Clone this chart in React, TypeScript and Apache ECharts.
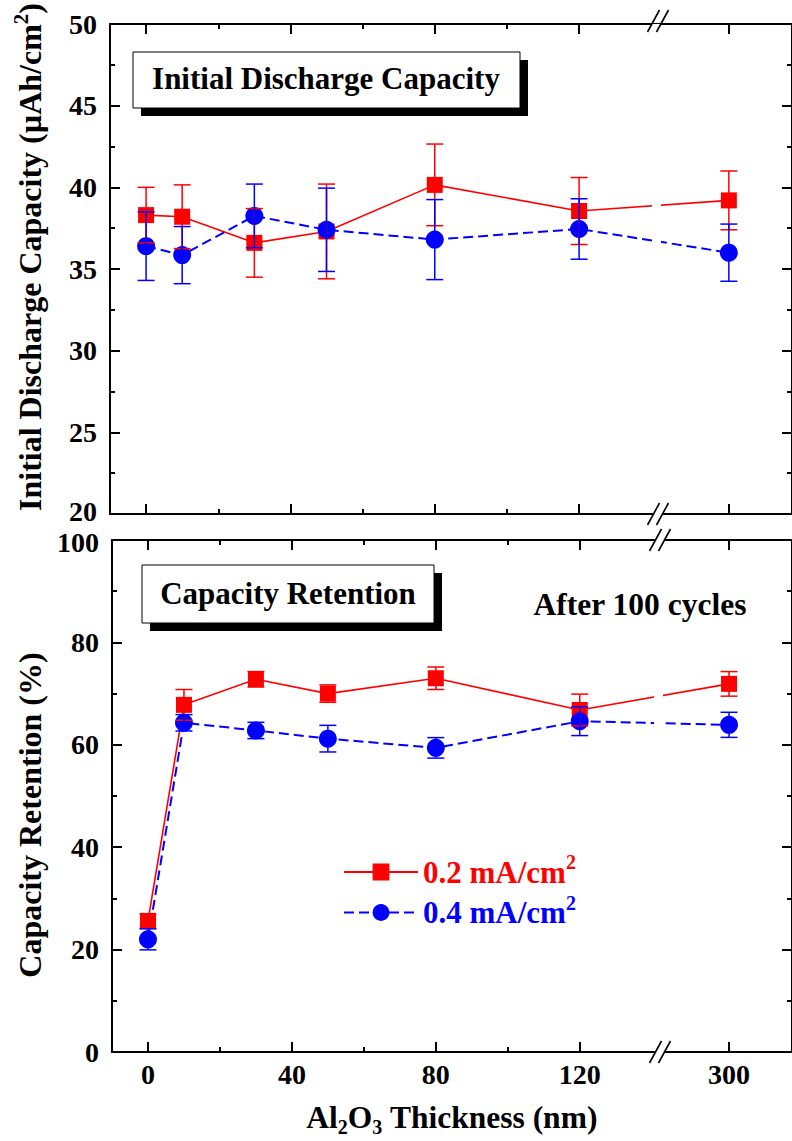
import React, { useEffect, useRef } from "react";
import * as echarts from "echarts";

// ---------- data ----------
const thickness = [0, 10, 30, 50, 80, 120, 300];
const xMajorTicks = [0, 40, 80, 120, 300];
const xMinorTicks = [20, 60, 100];

const capRed = [38.3, 38.2, 36.6, 37.3, 40.15, 38.55, 39.2];
const capRedErr = [1.7, 1.95, 2.1, 2.9, 2.5, 2.05, 1.8];
const capBlue = [36.4, 35.85, 38.25, 37.4, 36.8, 37.45, 36.0];
const capBlueErr = [2.1, 1.75, 1.95, 2.55, 2.45, 1.85, 1.75];

const retRed = [25.6, 67.8, 72.8, 70.0, 73.0, 66.8, 71.9];
const retRedErr = [1.4, 3.0, 1.5, 1.7, 2.2, 3.1, 2.4];
const retBlue = [22.0, 64.3, 62.8, 61.2, 59.4, 64.6, 63.9];
const retBlueErr = [2.05, 1.6, 1.6, 2.6, 2.0, 2.8, 2.45];

const seriesNames = ["0.2 mA/cm2", "0.4 mA/cm2"];
const RED = "#ff0000";
const BLUE = "#0000ff";

// ---------- axis break mapping (120 | 300) ----------
const BREAK_AFTER = 120;
const BREAK_TARGET = 300;
const BREAK_POS = 161.5;
const xPos = (t: number) => (t <= BREAK_AFTER ? t : BREAK_POS + (t - BREAK_TARGET));
const xLabel = (p: number) => String(Math.round(p <= BREAK_AFTER ? p : p - BREAK_POS + BREAK_TARGET));

const FONT = '"Liberation Serif", "Times New Roman", serif';

const G1 = { left: 110, top: 21, width: 685, height: 493 };
const G2 = { left: 112, top: 540, width: 683, height: 512 };

function xAxesFor(g: number) {
  const base = {
    type: "value",
    gridIndex: g,
    min: -10,
    max: 179,
    splitLine: { show: false },
  };
  const mk = (position: string, major: boolean, labels: boolean) => ({
    ...base,
    position,
    axisLine: { show: major, onZero: false, lineStyle: { color: "#000", width: 2 } },
    axisTick: {
      show: true,
      inside: true,
      length: major ? 10 : 5,
      customValues: (major ? xMajorTicks : xMinorTicks).map(xPos),
      lineStyle: { color: "#000", width: 2 },
    },
    axisLabel: {
      show: labels,
      customValues: xMajorTicks.map(xPos),
      formatter: (v: number) => xLabel(v),
      margin: 11,
      fontSize: 28,
      lineHeight: 22,
      fontWeight: "bold",
      fontFamily: FONT,
      color: "#000",
    },
    ...(labels
      ? {
          name: "{m|Al}{s|2}{m|O}{s|3}{m| Thickness (nm)}",
          nameLocation: "middle",
          nameGap: 45,
          nameTextStyle: {
            fontFamily: FONT,
            fontWeight: "bold",
            color: "#000",
            rich: {
              m: { fontSize: 31.5, lineHeight: 40, fontWeight: "bold", fontFamily: FONT },
              s: { fontSize: 20, lineHeight: 16, verticalAlign: "bottom", fontWeight: "bold", fontFamily: FONT },
            },
          },
        }
      : {}),
  });
  return [
    mk("bottom", true, g === 1),
    mk("bottom", false, false),
    mk("top", true, false),
    mk("top", false, false),
  ];
}

function yAxesFor(
  g: number,
  min: number,
  max: number,
  interval: number,
  name: string,
  namePad: number[],
  edgeValue: number,
  edgePad: number[]
) {
  const common = {
    type: "value",
    gridIndex: g,
    min,
    max,
    interval,
    splitLine: { show: false },
    axisLine: { show: true, onZero: false, lineStyle: { color: "#000", width: 2 } },
    axisTick: { show: true, inside: true, length: 10, lineStyle: { color: "#000", width: 2 } },
    minorTick: { show: true, splitNumber: 2, length: 5, lineStyle: { color: "#000", width: 2 } },
  };
  const lab = { fontSize: 28, lineHeight: 20, fontWeight: "bold", fontFamily: FONT, color: "#000" };
  return [
    {
      ...common,
      position: "left",
      axisLabel: {
        show: true,
        margin: 13,
        ...lab,
        formatter: (v: number) => (v === edgeValue ? `{e|${v}}` : `{n|${v}}`),
        rich: { n: { ...lab }, e: { ...lab, padding: edgePad } },
      },
      name,
      nameLocation: "middle",
      nameGap: 60,
      nameTextStyle: {
        fontFamily: FONT,
        fontWeight: "bold",
        color: "#000",
        padding: namePad,
        rich: {
          m: { fontSize: 32, lineHeight: 40, fontWeight: "bold", fontFamily: FONT },
          sup: { fontSize: 21, lineHeight: 16, verticalAlign: "top", fontWeight: "bold", fontFamily: FONT },
        },
      },
    },
    { ...common, position: "right", axisLabel: { show: false } },
  ];
}

function errSeries(g: number, vals: number[], errs: number[], color: string) {
  return {
    type: "custom",
    xAxisIndex: g * 4,
    yAxisIndex: g * 2,
    z: 3,
    silent: true,
    data: thickness.map((t, i) => [xPos(t), vals[i] - errs[i], vals[i] + errs[i]]),
    encode: { x: 0, y: [1, 2] },
    renderItem: (_params: any, api: any) => {
      const x = api.value(0);
      const top = api.coord([x, api.value(2)]);
      const bot = api.coord([x, api.value(1)]);
      const w = 8.5;
      const st = { stroke: color, lineWidth: 1.5 };
      return {
        type: "group",
        children: [
          { type: "line", shape: { x1: top[0], y1: top[1], x2: bot[0], y2: bot[1] }, style: st },
          { type: "line", shape: { x1: top[0] - w, y1: top[1], x2: top[0] + w, y2: top[1] }, style: st },
          { type: "line", shape: { x1: bot[0] - w, y1: bot[1], x2: bot[0] + w, y2: bot[1] }, style: st },
        ],
      };
    },
  };
}

function lineSeries(g: number, name: string, vals: number[], color: string, dashed: boolean) {
  return {
    type: "line",
    name,
    xAxisIndex: g * 4,
    yAxisIndex: g * 2,
    data: thickness.map((t, i) => [xPos(t), vals[i]]),
    symbol: dashed ? "circle" : "rect",
    symbolSize: dashed ? 18 : 16,
    z: 2,
    itemStyle: { color },
    lineStyle: { color, width: dashed ? 2 : 1.6, type: dashed ? [10, 5] : "solid" },
  };
}

function breakMarks(cx: number, y: number) {
  const h = 11;
  const dx = 6;
  const mk = (off: number) => ({
    type: "line",
    z: 30,
    shape: { x1: cx + off - dx, y1: y + h, x2: cx + off + dx, y2: y - h },
    style: { stroke: "#000", lineWidth: 1.6 },
  });
  return [
    { type: "rect", z: 29, shape: { x: cx - 4, y: y - 2, width: 8, height: 4 }, style: { fill: "#fff" } },
    mk(-4.5),
    mk(4.5),
  ];
}

function boxText(x: number, y: number, w: number, h: number, text: string, tx: number, ty: number) {
  return [
    { type: "rect", z: 20, shape: { x: x + 8, y: y + 8, width: w, height: h }, style: { fill: "#000" } },
    { type: "rect", z: 21, shape: { x, y, width: w, height: h }, style: { fill: "#fff", stroke: "#000", lineWidth: 1 } },
    {
      type: "text",
      z: 22,
      x: tx,
      y: ty,
      style: { text, fontSize: 31, fontWeight: "bold", fontFamily: FONT, fill: "#000", align: "center", verticalAlign: "middle" },
    },
  ];
}

export default function App() {
  const ref = useRef<HTMLDivElement>(null);
  useEffect(() => {
    if (!ref.current) return;
    const chart = echarts.init(ref.current, null, { renderer: "svg" });
    const legendRich = (color: string) => ({
      color,
      rich: {
        m: { fontSize: 31, lineHeight: 40, fontWeight: "bold", fontFamily: FONT, color },
        sup: { fontSize: 20, lineHeight: 16, verticalAlign: "top", fontWeight: "bold", fontFamily: FONT, color },
      },
    });
    chart.setOption({
      animation: false,
      backgroundColor: "#fff",
      grid: [
        { ...G1, containLabel: false },
        { ...G2, containLabel: false },
      ],
      xAxis: [...xAxesFor(0), ...xAxesFor(1)],
      yAxis: [
        ...yAxesFor(0, 20, 50, 5, "{m|Initial Discharge Capacity (µAh/cm}{sup|2}{m|)}", [0, 0, 0, 24], 20, [0, 0, 6, 0]),
        ...yAxesFor(1, 0, 100, 20, "{m|Capacity Retention (%)}", [0, 38, 0, 0], 100, [4, 0, 0, 0]),
      ],
      legend: {
        orient: "vertical",
        left: 343,
        top: 852,
        padding: 0,
        itemWidth: 74,
        itemHeight: 21,
        itemGap: 5,
        selectedMode: false,
        data: [
          { name: seriesNames[0], textStyle: legendRich(RED) },
          { name: seriesNames[1], textStyle: legendRich(BLUE) },
        ],
        formatter: (n: string) => `{m|${n.slice(0, -1)}}{sup|2}`,
        textStyle: { fontFamily: FONT, fontWeight: "bold" },
      },
      graphic: [
        ...boxText(133, 52, 387, 56, "Initial Discharge Capacity", 326, 78),
        ...boxText(142, 565, 292, 58, "Capacity Retention", 288, 593),
        {
          type: "text",
          z: 22,
          x: 640,
          y: 604,
          style: { text: "After 100 cycles", fontSize: 31.5, fontWeight: "bold", fontFamily: FONT, fill: "#000", align: "center", verticalAlign: "middle" },
        },
        { type: "rect", z: 25, shape: { x: 652, y: G1.top + 3, width: 9, height: G1.height - 6 }, style: { fill: "#fff" } },
        { type: "rect", z: 25, shape: { x: 654, y: 630, width: 9, height: G2.top + G2.height - 633 }, style: { fill: "#fff" } },
        ...breakMarks(658, G1.top),
        ...breakMarks(658, G1.top + G1.height),
        ...breakMarks(660, G2.top),
        ...breakMarks(660, G2.top + G2.height),
      ],
      series: [
        lineSeries(0, seriesNames[0], capRed, RED, false),
        lineSeries(0, seriesNames[1], capBlue, BLUE, true),
        errSeries(0, capRed, capRedErr, RED),
        errSeries(0, capBlue, capBlueErr, BLUE),
        lineSeries(1, seriesNames[0], retRed, RED, false),
        lineSeries(1, seriesNames[1], retBlue, BLUE, true),
        errSeries(1, retRed, retRedErr, RED),
        errSeries(1, retBlue, retBlueErr, BLUE),
      ],
    });
    return () => chart.dispose();
  }, []);
  return <div ref={ref} style={{ width: 792, height: 1141, position: "absolute", left: 0, top: 0 }} />;
}
